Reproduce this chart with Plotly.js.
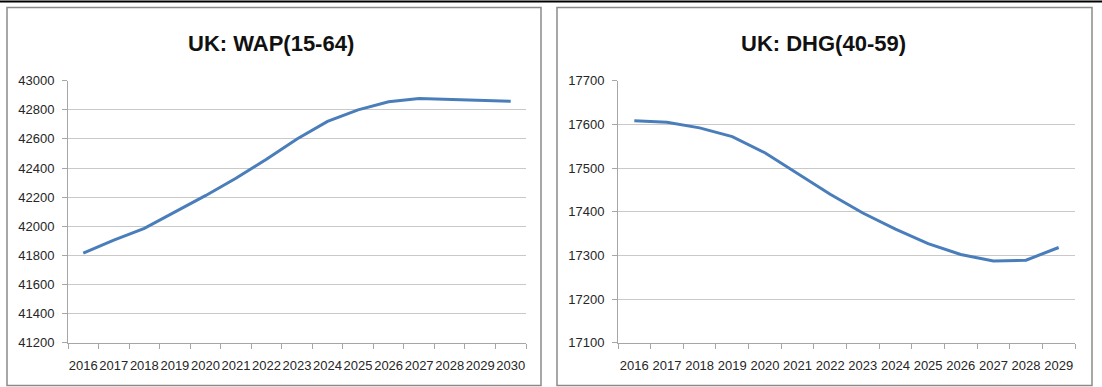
<!DOCTYPE html>
<html>
<head>
<meta charset="utf-8">
<script src="https://cdn.plot.ly/plotly-3.0.1.min.js"></script>
<style>
  html, body { margin: 0; padding: 0; background: #ffffff; }
  #chart { width: 1102px; height: 387px; }
</style>
</head>
<body>
<div id="chart"></div>
<script>
// ---- Data ----
const wapTitle = 'UK: WAP(15-64)';
const dhgTitle = 'UK: DHG(40-59)';
const wapYears = ['2016','2017','2018','2019','2020','2021','2022','2023','2024','2025','2026','2027','2028','2029','2030'];
const wapValues = [41815, 41905, 41985, 42095, 42210, 42330, 42460, 42600, 42720, 42800, 42855, 42878, 42870, 42863, 42858];
const dhgYears = ['2016','2017','2018','2019','2020','2021','2022','2023','2024','2025','2026','2027','2028','2029'];
const dhgValues = [17608, 17605, 17592, 17572, 17535, 17488, 17440, 17397, 17360, 17327, 17302, 17287, 17289, 17318];
const wapTickVals = [41200, 41400, 41600, 41800, 42000, 42200, 42400, 42600, 42800, 43000];
const dhgTickVals = [17100, 17200, 17300, 17400, 17500, 17600, 17700];

// ---- Layout helpers ----
const W = 1102, H = 387;
const px = v => v / W;
const py = v => (H - v) / H;

const lineColor = '#4a7ebb';
const gridColor = '#c9c9c9';
const axisColor = '#a6a6a6';
const tickFont = { family: 'Liberation Sans, Arial, sans-serif', size: 13, color: '#262626' };
const titleFont = { family: 'Liberation Sans, Arial, sans-serif', size: 22, color: '#111111', weight: 'bold' };

const traces = [
  { x: wapYears, y: wapValues, xaxis: 'x', yaxis: 'y', type: 'scatter', mode: 'lines',
    line: { color: lineColor, width: 3 }, hoverinfo: 'skip' },
  { x: dhgYears, y: dhgValues, xaxis: 'x2', yaxis: 'y2', type: 'scatter', mode: 'lines',
    line: { color: lineColor, width: 3 }, hoverinfo: 'skip' }
];

const yDomain = [py(342.7), py(80.7)];

function xAxis(domain, n, anchor) {
  return {
    domain: domain, anchor: anchor, type: 'category', range: [-0.5, n - 0.5],
    showgrid: false, zeroline: false, showline: true, linecolor: axisColor, linewidth: 1,
    ticks: 'outside', tickson: 'boundaries', ticklen: 5, tickcolor: axisColor, tickwidth: 1,
    tickangle: 0, tickfont: tickFont, ticklabelstandoff: 11, fixedrange: true
  };
}
function yAxis(range, vals, anchor) {
  return {
    domain: yDomain, anchor: anchor, range: range, tickvals: vals, ticktext: vals.map(String),
    showgrid: true, gridcolor: gridColor, gridwidth: 1, zeroline: false,
    showline: true, linecolor: axisColor, linewidth: 1,
    ticks: 'outside', ticklen: 5, tickcolor: axisColor, tickwidth: 1,
    tickfont: tickFont, ticklabelstandoff: 5, fixedrange: true
  };
}

const layout = {
  width: W, height: H,
  margin: { l: 0, r: 0, t: 0, b: 0, pad: 0 },
  paper_bgcolor: '#ffffff', plot_bgcolor: '#ffffff',
  showlegend: false,
  xaxis: xAxis([px(68), px(526)], wapYears.length, 'y'),
  yaxis: yAxis([41200, 43000], wapTickVals, 'x'),
  xaxis2: xAxis([px(618), px(1075)], dhgYears.length, 'y2'),
  yaxis2: yAxis([17100, 17700], dhgTickVals, 'x2'),
  annotations: [
    { text: wapTitle, xref: 'paper', yref: 'paper', x: px(271), y: py(43), xanchor: 'center', yanchor: 'middle',
      showarrow: false, font: titleFont },
    { text: dhgTitle, xref: 'paper', yref: 'paper', x: px(823), y: py(43), xanchor: 'center', yanchor: 'middle',
      showarrow: false, font: titleFont }
  ],
  shapes: [
    { type: 'line', xref: 'paper', yref: 'paper', x0: 0, x1: 1, y0: py(1.5), y1: py(1.5),
      line: { color: '#000000', width: 2 } },
    { type: 'rect', xref: 'paper', yref: 'paper', x0: px(7), x1: px(541), y0: py(385.5), y1: py(7.5),
      line: { color: '#8a8a8a', width: 1.5 } },
    { type: 'rect', xref: 'paper', yref: 'paper', x0: px(557), x1: px(1092), y0: py(385.5), y1: py(7.5),
      line: { color: '#8a8a8a', width: 1.5 } }
  ]
};

Plotly.newPlot('chart', traces, layout, { displayModeBar: false, staticPlot: true });
</script>
</body>
</html>
